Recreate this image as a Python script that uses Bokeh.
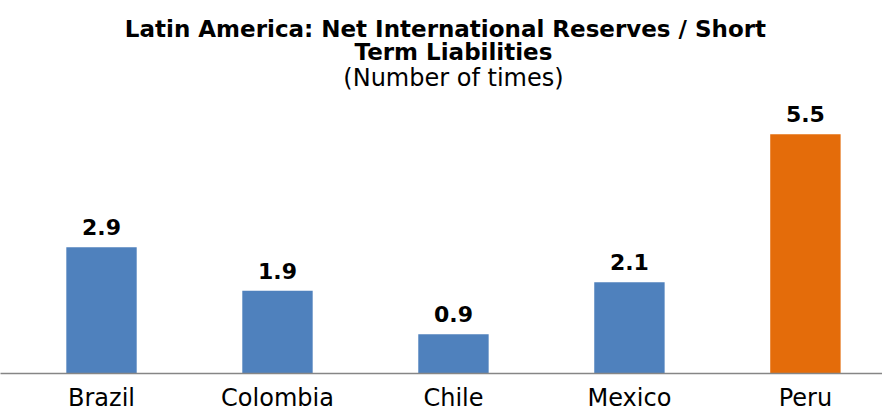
from bokeh.plotting import figure
from bokeh.models import Range1d, FixedTicker, Label, ColumnDataSource
from bokeh.embed import file_html
from bokeh.resources import INLINE
from bokeh.core.properties import value

countries = ["Brazil", "Colombia", "Chile", "Mexico", "Peru"]
ratios = [2.9, 1.9, 0.9, 2.1, 5.5]
highlight = "Peru"
title_line1 = "Latin America:  Net International  Reserves / Short"
title_line2 = "Term Liabilities"
subtitle = "(Number of times)"

BLUE = "#4F81BD"
ORANGE = "#E46C0A"
FONT = "DejaVu Sans"

xs = list(range(len(countries)))
colors = [ORANGE if c == highlight else BLUE for c in countries]
labels = [f"{v:.1f}" for v in ratios]
src = ColumnDataSource(dict(x=xs, y=ratios, color=colors, label=labels))

p = figure(width=882, height=414, output_backend="svg", toolbar_location=None,
           x_range=Range1d(-0.574, 4.438), y_range=Range1d(0, 8.575),
           min_border_left=0, min_border_right=0, min_border_top=0, min_border_bottom=41)
p.outline_line_color = None
p.xgrid.visible = False
p.ygrid.visible = False
p.yaxis.visible = False

p.vbar(x="x", top="y", width=0.4, color="color", line_color=None, source=src)
p.text(x="x", y="y", text="label", source=src, text_align="center",
       text_baseline="alphabetic", y_offset=-20, text_font=value(FONT),
       text_font_style="bold", text_font_size="22px", text_color="#000000")

ax = p.xaxis[0]
ax.ticker = FixedTicker(ticks=xs)
ax.major_label_overrides = {i: c for i, c in zip(xs, countries)}
ax.major_tick_line_color = None
ax.minor_tick_line_color = None
ax.major_tick_out = 0
ax.major_tick_in = 0
ax.major_label_standoff = 10
ax.major_label_text_font = FONT
ax.major_label_text_font_size = "24px"
ax.major_label_text_color = "#000000"
ax.axis_line_color = "#868686"
ax.axis_line_width = 1.5

for txt, yy, style, size in [(title_line1, 345, "bold", "23px"),
                             (title_line2, 322, "bold", "23px"),
                             (subtitle, 296, "normal", "24px")]:
    p.add_layout(Label(x=2, y=yy, x_units="data", y_units="screen", text=txt,
                       text_align="center", text_baseline="middle", text_font=FONT,
                       text_font_style=style, text_font_size=size,
                       text_color="#000000"))

open("out.html", "w").write(file_html(p, INLINE))
